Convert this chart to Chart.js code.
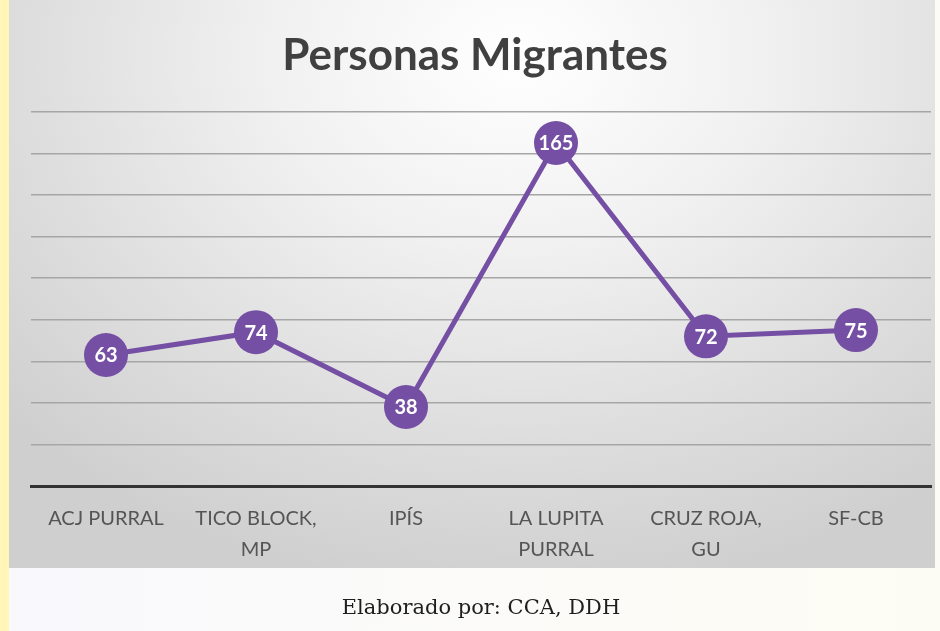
<!DOCTYPE html>
<html>
<head>
<meta charset="utf-8">
<script src="https://cdn.jsdelivr.net/npm/chart.js@4.4.1/dist/chart.umd.min.js"></script>
<style>
  html, body { margin: 0; padding: 0; }
  body {
    width: 940px; height: 631px; overflow: hidden; position: relative;
    background: linear-gradient(90deg, #fff6b8 0px, #fff6b8 9px, #f9f9fd 9px, #fdfcf4 100%);
  }
  #panel {
    position: absolute; left: 9px; top: 0; width: 926px; height: 568px;
    background: radial-gradient(ellipse 75% 95% at 55% 10%, #ffffff 0%, #f1f1f1 35%, #dedede 70%, #cfcfcf 100%);
  }
  #chart1 { position: absolute; left: 9px; top: 0; }
  #footer {
    position: absolute; left: 11px; width: 940px; top: 595px; text-align: center;
    font-family: "DejaVu Serif", serif; font-size: 21px; color: #1e1e1e;
  }
</style>
</head>
<body>
<div id="panel"></div>
<canvas id="chart1" width="950" height="600"></canvas>
<div id="footer">Elaborado por: CCA, DDH</div>
<script>
// data
const categories = ['ACJ PURRAL', ['TICO BLOCK,', 'MP'], 'IPÍS', ['LA LUPITA', 'PURRAL'], ['CRUZ ROJA,', 'GU'], 'SF-CB'];
const personas = [63, 74, 38, 165, 72, 75];
const yMax = 180;
const yStep = 20;

const purple = '#744fa3';

// white numbers inside the markers
const pointLabels = {
    id: 'pointLabels',
    afterDatasetsDraw(chart) {
        const ctx = chart.ctx;
        const meta = chart.getDatasetMeta(0);
        ctx.save();
        ctx.fillStyle = '#ffffff';
        ctx.font = 'bold 20px Lato';
        ctx.textAlign = 'center';
        ctx.textBaseline = 'middle';
        meta.data.forEach(function(pt, i) {
            ctx.fillText(String(chart.data.datasets[0].data[i]), pt.x, pt.y + 1);
        });
        ctx.restore();
    }
};

document.addEventListener("DOMContentLoaded", function() {
    const ctx1 = document.getElementById('chart1').getContext('2d');
    new Chart(ctx1, {
        type: 'line',
        data: {
            labels: categories,
            datasets: [{
                label: 'Personas Migrantes',
                data: personas,
                borderColor: purple,
                backgroundColor: purple,
                borderWidth: 5,
                pointRadius: 22,
                pointBackgroundColor: purple,
                pointBorderColor: purple,
                pointBorderWidth: 0,
                tension: 0
            }]
        },
        options: {
            responsive: false,
            animation: false,
            layout: { padding: { left: 10, right: 28, top: 0, bottom: 26 } },
            plugins: {
                legend: { display: false },
                tooltip: { enabled: false },
                title: {
                    display: true,
                    text: 'Personas Migrantes',
                    color: '#404040',
                    font: { family: 'Lato', size: 44, weight: 'bold' },
                    padding: { top: 29, bottom: 30 }
                }
            },
            scales: {
                x: {
                    offset: true,
                    grid: { display: false },
                    border: { display: true, color: '#333333', width: 3 },
                    ticks: {
                        color: '#555555',
                        font: { family: 'Lato', size: 20, lineHeight: 1.55 },
                        padding: 9,
                        maxRotation: 0,
                        autoSkip: false
                    }
                },
                y: {
                    min: 0,
                    max: yMax,
                    ticks: { display: false, stepSize: yStep },
                    border: { display: false },
                    grid: { color: '#a6a6a6', lineWidth: 1.5, drawTicks: false }
                }
            }
        },
        plugins: [pointLabels]
    });
});
</script>
</body>
</html>
